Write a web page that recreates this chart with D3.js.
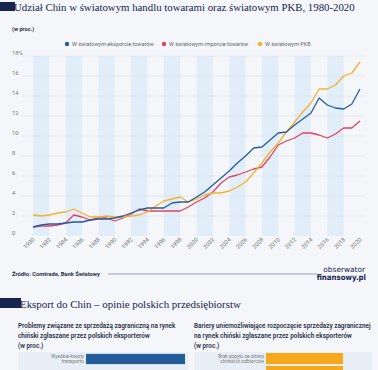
<!DOCTYPE html>
<html>
<head>
<meta charset="utf-8">
<title>Udział Chin w światowym handlu</title>
<script src="https://d3js.org/d3.v7.min.js"></script>
<style>
  body { margin: 0; background: #f4f6f9; }
  svg { display: block; }
  text { font-family: Roboto, "Noto Sans", sans-serif; }
</style>
</head>
<body>
<svg id="canvas"></svg>
<script>
// data
var years = d3.range(1980, 2021);
var exportShare = [0.9, 1.1, 1.2, 1.2, 1.3, 1.4, 1.4, 1.6, 1.7, 1.7, 1.8, 2.0, 2.3, 2.6, 2.8, 2.8, 2.8, 3.3, 3.4, 3.4,
  3.9, 4.4, 5.1, 5.8, 6.5, 7.3, 8.0, 8.8, 8.9, 9.6, 10.3, 10.4, 11.1, 11.7, 12.3, 13.8, 13.1, 12.8, 12.7, 13.2, 14.7];
var importShare = [0.9, 1.0, 1.0, 1.1, 1.3, 2.1, 1.9, 1.6, 1.8, 1.8, 1.5, 1.8, 2.2, 2.7, 2.5, 2.5, 2.5, 2.5, 2.5, 2.9,
  3.4, 3.8, 4.4, 5.3, 5.9, 6.1, 6.4, 6.7, 6.9, 7.9, 9.1, 9.5, 9.8, 10.3, 10.3, 10.1, 9.8, 10.2, 10.8, 10.8, 11.5];
var gdpShare = [2.1, 2.0, 2.1, 2.3, 2.4, 2.7, 2.3, 1.9, 1.9, 2.0, 1.9, 1.9, 2.0, 2.1, 2.4, 3.0, 3.5, 3.7, 3.9, 3.4,
  3.7, 4.1, 4.3, 4.3, 4.5, 4.9, 5.4, 6.3, 7.3, 8.4, 9.3, 10.4, 11.4, 12.4, 13.3, 14.7, 14.7, 15.1, 16.0, 16.3, 17.4];
var seriesNames = ["W światowym eksporcie towarów", "W światowym imporcie towarów", "W światowym PKB"];
var seriesColors = ["#245c9c", "#dc4460", "#f4b12e"];
var yTicks = [0, 2, 4, 6, 8, 10, 12, 14, 16, 18];
var xTicks = d3.range(1980, 2021, 2);

// lower panels
var leftCats = ["Wysokie koszty\ntransportu"];
var leftVals = [63];
var rightCats = ["Brak popytu ze strony\nchińskich odbiorców", ""];
var rightVals = [49, 49];

var width = 378, height = 370;
var svg = d3.select("#canvas").attr("width", width).attr("height", height);
var navy = "#17244f";

svg.append("rect").attr("width", width).attr("height", height).attr("fill", "#f4f6f9");

// title
svg.append("rect").attr("x", 0).attr("y", 2).attr("width", 15).attr("height", 9).attr("fill", navy);
svg.append("text").attr("x", 14).attr("y", 10.5)
  .style("font-family", "'Liberation Serif', serif")
  .attr("font-size", 10.8).attr("fill", navy)
  .text("Udział Chin w światowym handlu towarami oraz światowym PKB, 1980-2020");

svg.append("text").attr("x", 12).attr("y", 31).attr("font-size", 5.6).attr("font-weight", "bold")
  .attr("fill", "#2a2f45").text("(w proc.)");

var x = d3.scaleLinear().domain([1980, 2020]).range([33, 360]);
var y = d3.scaleLinear().domain([0, 18]).range([236, 56]);

// stripes
svg.append("g").selectAll("rect")
  .data(d3.range(1980, 2020, 4))
  .join("rect")
  .attr("x", function (d) { return x(d); })
  .attr("y", y(18))
  .attr("width", function (d) { return x(d + 2) - x(d); })
  .attr("height", y(0) - y(18))
  .attr("fill", "#e1edf8");

// grid
svg.append("g").selectAll("line")
  .data(yTicks.filter(function (d) { return d > 0; }))
  .join("line")
  .attr("x1", 22).attr("x2", 365)
  .attr("y1", function (d) { return y(d); })
  .attr("y2", function (d) { return y(d); })
  .attr("stroke", "#dde3ea").attr("stroke-width", 0.7);

svg.append("g").selectAll("text")
  .data(yTicks)
  .join("text")
  .attr("x", 12)
  .attr("y", function (d) { return y(d) - 1.5; })
  .attr("font-size", 5.8).attr("fill", "#777")
  .text(function (d) { return d === 18 ? "18%" : d; });

svg.append("g").selectAll("text")
  .data(xTicks)
  .join("text")
  .attr("text-anchor", "end")
  .attr("transform", function (d) { return "translate(" + (x(d) + 2) + ",240) rotate(-45)"; })
  .attr("font-size", 5.8).attr("fill", "#777")
  .text(function (d) { return d; });

// lines
var line = d3.line()
  .x(function (d, i) { return x(years[i]); })
  .y(function (d) { return y(d); });

[importShare, gdpShare, exportShare].forEach(function (s, k) {
  var c = [seriesColors[1], seriesColors[2], seriesColors[0]][k];
  svg.append("path").datum(s).attr("d", line)
    .attr("fill", "none").attr("stroke", c).attr("stroke-width", 1.3)
    .attr("stroke-linejoin", "round");
});

// legend
var legendX = [67, 164, 260];
var lg = svg.append("g").selectAll("g").data(seriesNames).join("g")
  .attr("transform", function (d, i) { return "translate(" + legendX[i] + ",44)"; });
lg.append("circle").attr("r", 2.2).attr("fill", function (d, i) { return seriesColors[i]; });
lg.append("text").attr("x", 5).attr("y", 2).attr("font-size", 5.5).attr("fill", "#666")
  .text(function (d) { return d; });

// source
svg.append("text").attr("x", 12).attr("y", 276).attr("font-size", 5.8).attr("font-weight", "bold")
  .attr("fill", "#2a2f45").text("Źródło: Comtrade, Bank Światowy");
svg.append("line").attr("x1", 108).attr("x2", 318).attr("y1", 274).attr("y2", 274)
  .attr("stroke", "#5a6485").attr("stroke-width", 0.6);
svg.append("text").attr("x", 365).attr("y", 272).attr("text-anchor", "end")
  .attr("font-size", 7.4).attr("fill", navy)
  .style("font-family", "'DejaVu Sans', sans-serif").text("obserwator");
svg.append("text").attr("x", 366).attr("y", 280).attr("text-anchor", "end")
  .attr("font-size", 7.8).attr("font-weight", "bold").attr("fill", navy)
  .style("font-family", "'DejaVu Sans Condensed', 'DejaVu Sans', sans-serif").text("finansowy.pl");

// second section
svg.append("rect").attr("x", 0).attr("y", 298).attr("width", 21).attr("height", 10).attr("fill", navy);
svg.append("text").attr("x", 20).attr("y", 307.5)
  .style("font-family", "'Liberation Serif', serif")
  .attr("font-size", 10.9).attr("fill", navy)
  .text("Eksport do Chin – opinie polskich przedsiębiorstw");

var subLeft = ["Problemy związane ze sprzedażą zagraniczną na rynek", "chiński zgłaszane przez polskich eksporterów", "(w proc.)"];
var subRight = ["Bariery uniemożliwiające rozpoczęcie sprzedaży zagranicznej", "na rynek chiński zgłaszane przez polskich eksporterów", "(w proc.)"];
[[18, subLeft], [194, subRight]].forEach(function (p) {
  svg.append("g").selectAll("text").data(p[1]).join("text")
    .attr("x", p[0]).attr("y", function (d, i) { return 327.5 + i * 10; })
    .attr("font-size", 6.4).attr("font-weight", 600).attr("fill", "#2a2f45")
    .text(function (d) { return d; });
});

var bx = d3.scaleLinear().domain([0, 70]).range([0, 110]);

function panel(x0, x1, barX, cats, vals, color) {
  svg.append("rect").attr("x", x0).attr("y", 352).attr("width", x1 - x0).attr("height", 20).attr("fill", "#e8eef5");
  var by = d3.scaleBand().domain(d3.range(cats.length)).range([353, 353 + cats.length * 12]).paddingInner(0.15);
  svg.append("g").selectAll("rect").data(vals).join("rect")
    .attr("x", barX).attr("y", function (d, i) { return by(i); })
    .attr("width", function (d) { return bx(d); })
    .attr("height", by.bandwidth()).attr("fill", color);
  var t = svg.append("g").selectAll("text").data(cats).join("text")
    .attr("text-anchor", "end").attr("font-size", 4.8).attr("fill", "#777")
    .attr("y", function (d, i) { return by(i) + 4.5; });
  t.each(function (d) {
    var el = d3.select(this);
    d.split("\n").forEach(function (s, j) {
      el.append("tspan").attr("x", barX - 2).attr("dy", j === 0 ? 0 : 5).text(s);
    });
  });
}
panel(18, 188, 86, leftCats, leftVals, "#235c9a");
panel(194, 372, 266, rightCats, rightVals, "#f6a81c");
</script>
</body>
</html>
